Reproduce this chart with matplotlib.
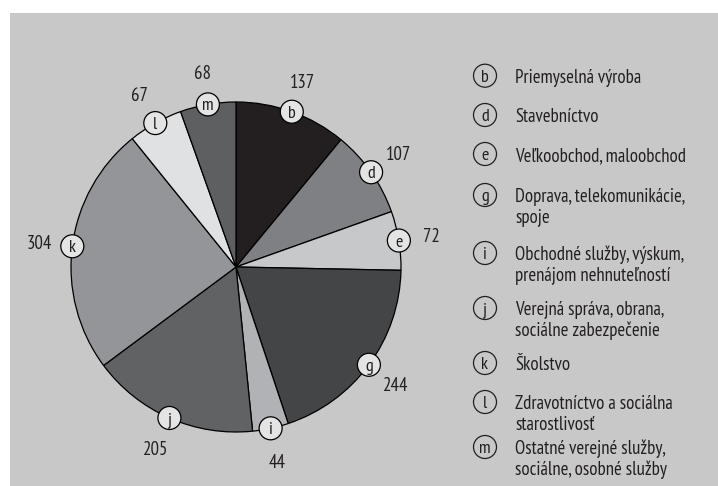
import numpy as np
import matplotlib
matplotlib.use("Agg")
import matplotlib.pyplot as plt
from matplotlib.patches import Circle, Rectangle

# ---- data ----
letters = ["b", "d", "e", "g", "i", "j", "k", "l", "m"]
values = [137, 107, 72, 244, 44, 205, 304, 67, 68]
names = [
    "Priemyselná výroba",
    "Stavebníctvo",
    "Veľkoobchod, maloobchod",
    "Doprava, telekomunikácie,\nspoje",
    "Obchodné služby, výskum,\nprenájom nehnuteľností",
    "Verejná správa, obrana,\nsociálne zabezpečenie",
    "Školstvo",
    "Zdravotníctvo a sociálna\nstarostlivosť",
    "Ostatné verejné služby,\nsociálne, osobné služby",
]
colors = ["#231f20", "#7f8083", "#c7c8ca", "#444547", "#b1b2b5",
          "#616264", "#939598", "#e0e1e3", "#5e5f61"]

FONT = ["PT Sans Narrow", "Fira Sans Condensed", "Archivo Narrow",
        "Liberation Sans Narrow", "DejaVu Sans"]
W, H = 718, 486
fig = plt.figure(figsize=(W / 100, H / 100), dpi=100, facecolor="white")

# background / legend overlay in pixel coordinates
lax = fig.add_axes([0, 0, 1, 1])
lax.set_zorder(0)
lax.set_xlim(0, W)
lax.set_ylim(H, 0)
lax.axis("off")
lax.add_patch(Rectangle((10, 13), W - 10, H - 13, facecolor="#c8c8c8",
                        edgecolor="none", zorder=0))

# pie axes: center (236, 267) px, radius 165 px
R = 165.0
half = 230.0
cx, cy = 236.0, H - 267.0
ax = fig.add_axes([(cx - half) / W, (cy - half) / H, 2 * half / W, 2 * half / H])
ax.set_zorder(1)
ax.axis("off")

wedges, _ = ax.pie(values, colors=colors, startangle=90, counterclock=False,
                   radius=1.0, center=(0, 0),
                   wedgeprops=dict(edgecolor="black", linewidth=0.9))
ax.set_xlim(-half / R, half / R)
ax.set_ylim(-half / R, half / R)
ax.set_aspect("equal")

total = float(sum(values))
mr = 11.5 / R
start = 90.0
for let, v in zip(letters, values):
    span = 360.0 * v / total
    mid = np.deg2rad(start - span / 2)
    start -= span
    x, y = np.cos(mid), np.sin(mid)
    ax.add_patch(Circle((x, y), mr, facecolor="#e4e4e4", edgecolor="black",
                        linewidth=0.9, zorder=5, clip_on=False))
    ax.text(x, y, let, ha="center", va="center_baseline", fontsize=13,
            family=FONT, color="#231f20", zorder=6, clip_on=False)
    ax.text(1.2 * x, 1.2 * y, str(v), ha="center", va="center_baseline",
            fontsize=13.5, family=FONT, color="#231f20", clip_on=False)

row_y = [75.7, 115, 154, 195, 253, 308, 363, 402, 447]
line_h = 21
for let, name, y in zip(letters, names, row_y):
    lax.add_patch(Circle((485, y), 11.5, facecolor="none", edgecolor="#231f20",
                         linewidth=0.9, zorder=2))
    lax.text(485, y, let, ha="center", va="center_baseline", fontsize=13,
             family=FONT, color="#231f20", zorder=3)
    for i, line in enumerate(name.split("\n")):
        lax.text(515, y + i * line_h, line, ha="left", va="center_baseline",
                 fontsize=13.5, family=FONT, color="#231f20", zorder=3)

fig.savefig("out.png", dpi=100, facecolor="white")
